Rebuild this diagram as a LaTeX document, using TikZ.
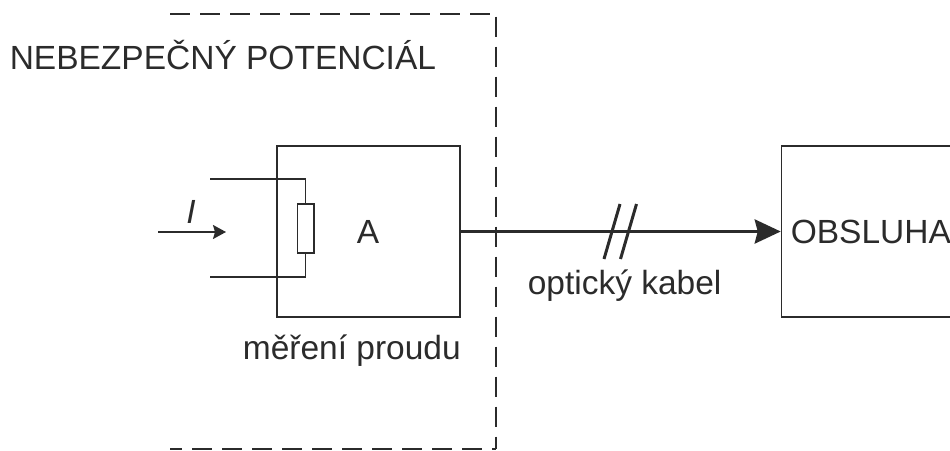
\documentclass[tikz,border=0pt]{standalone}
\usepackage{fontspec}
\setmainfont{Liberation Sans}
\usetikzlibrary{arrows.meta,positioning}
\definecolor{inkdark}{HTML}{2B2B2B}

\begin{document}
\begin{tikzpicture}[
        x=1pt, y=-1pt,
        color=inkdark,
        node distance=10pt and 10pt,
        every path/.style={line width=1.5pt},
        every node/.style={font=\fontsize{33.5}{40}\selectfont, inner sep=0pt},
        unit/.style={draw, minimum width=183pt, minimum height=171pt},
        shunt/.style={draw, minimum width=16.5pt, minimum height=49pt},
        label/.style={draw=none},
        fibre/.style={line width=3.6pt, -{Stealth[length=26pt,width=24pt,inset=3pt]}},
        frame/.style={line width=1.6pt, dash pattern=on 20pt off 10pt},
        tick/.style={line width=3pt}
    ]
    \useasboundingbox (0,0) rectangle (950,450);

    % Nodes
    \node (ampere)[unit] at (368.5,231.5) {};
    \node (obsluha)[unit, right=320pt of ampere] {};
    \node (shunt)[shunt] at (305.7,228.5) {};
    \node (letterA)[label] at (368,231.5) {A};
    \node (danger)[label, anchor=base west] at (9,69) {NEBEZPEČNÝ POTENCIÁL};
    \node (measure)[label, anchor=base east] at (461.5,359.5) {měření proudu};
    \node (cable)[label, anchor=base west] at (527,294.5) {optický kabel};
    \node (service)[label, anchor=west] at (790,231.5) {OBSLUHA};
    \node (current)[label, font=\fontsize{33.5}{40}\selectfont\itshape] at (191,212) {I};

    % Free ends
    \coordinate (topin) at (210,179);
    \coordinate (botin) at (210,277);
    \coordinate (arrowin) at (158,232);
    \coordinate (arrowout) at (226,232);
    \coordinate (framea) at (170,14);
    \coordinate (frameb) at (496,14);
    \coordinate (framec) at (496,449);
    \coordinate (framed) at (170,449);
    \coordinate (ticka) at (604,259);
    \coordinate (tickb) at (620,204);
    \coordinate (tickc) at (620.5,259);
    \coordinate (tickd) at (636.5,204);

    % Edges
    \draw (topin) -| (shunt.north);
    \draw (botin) -| (shunt.south);
    \draw[-{Stealth[length=13pt,width=14pt,inset=2pt]}] (arrowin) -- (arrowout);
    \draw[fibre] (ampere.east) -- (obsluha.west);
    \draw[frame] (framea) -- (frameb);
    \draw[frame, dash phase=27.3pt] (frameb) -- (framec);
    \draw[frame, dash phase=8pt] (framed) -- (framec);
    \draw[tick] (ticka) -- (tickb);
    \draw[tick] (tickc) -- (tickd);

\end{tikzpicture}
\end{document}
